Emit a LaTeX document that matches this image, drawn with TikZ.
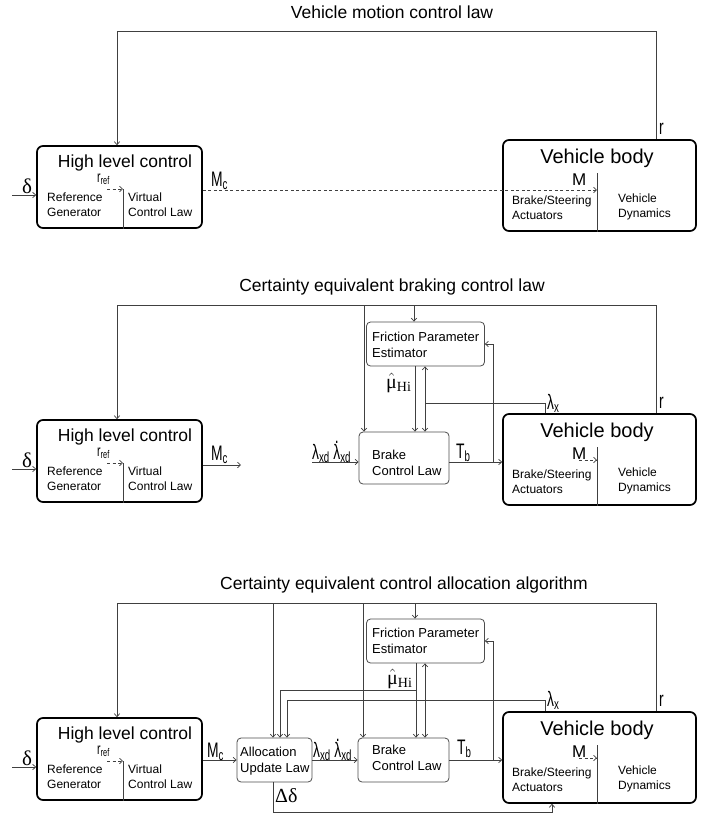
\documentclass[tikz,border=0pt]{standalone}
\usepackage[no-math]{fontspec}
\setmainfont{Liberation Sans}
\newfontfamily\lblfont[FakeStretch=0.66]{Liberation Sans}
\newfontfamily\grkfont{Liberation Serif}
\usetikzlibrary{arrows.meta}
\definecolor{wire}{gray}{0.25}
\definecolor{boxline}{gray}{0.3}
\newcommand\dotlam{{\ooalign{λ\cr\hidewidth\raisebox{0.72em}{.}\hidewidth\cr}}}
\tikzset{
  bigbox/.style={draw=black,line width=1.7pt,rounded corners=6pt,inner sep=0pt},
  smallbox/.style={draw=boxline,line width=0.8pt,rounded corners=4pt,inner sep=0pt},
  wireln/.style={wire,line width=0.7pt},
  sig/.style={wireln,-{Straight Barb[length=3pt,width=5.5pt]}},
  dsig/.style={sig,dash pattern=on 3pt off 2.5pt},
  bsig/.style={wireln,{Straight Barb[length=3pt,width=5.5pt]}-{Straight Barb[length=3pt,width=5.5pt]}},
  ttl/.style={font=\fontsize{17.5}{21}\selectfont,inner sep=0pt},
  bigtxt/.style={font=\fontsize{17.5}{21}\selectfont,inner sep=0pt,anchor=base},
  smalltxt/.style={font=\fontsize{12}{15}\selectfont,align=left,inner sep=0pt,anchor=north west},
  midtxt/.style={font=\fontsize{13}{15.5}\selectfont,align=left,inner sep=0pt,anchor=north west},
  lbl/.style={font=\lblfont\fontsize{21}{24}\selectfont,inner sep=0pt,anchor=base west},
  grk/.style={font=\grkfont\fontsize{20}{24}\selectfont,inner sep=0pt,anchor=base west},
}

\begin{document}
\begin{tikzpicture}[x=1pt,y=-1pt]
\useasboundingbox (0,0) rectangle (715,814);
% the three panels share both big blocks and the r loop
\foreach \p/\dy/\tx/\ttext in {1/0/392/Vehicle motion control law,
    2/274/392/Certainty equivalent braking control law,
    3/572/404/Certainty equivalent control allocation algorithm}{
  \node[ttl] (title\p) at (\tx,{12.5+\dy}) {\ttext};
  % high level control
  \node[bigbox,minimum width=165pt,minimum height=82pt] (hlc\p) at (119.5,{187+\dy}) {};
  \node[bigtxt] (hlct\p) at (125,{167+\dy}) {High level control};
  \node[lbl,font=\lblfont\fontsize{16}{18}\selectfont,text height=7pt,text depth=3pt] (rref\p) at (97,{182+\dy}) {r\textsubscript{ref}};
  \coordinate (rrs\p) at (107,{189+\dy});
  \coordinate (hdiv\p) at (123,{189+\dy});
  \draw[dsig] (rrs\p) -- (hdiv\p);
  \draw[wireln] (hdiv\p) -- (hdiv\p |- hlc\p.south);
  \node[smalltxt] (refgen\p) at (47,{193+\dy}) {Reference\\Generator};
  \node[smalltxt] (vcl\p) at (128,{193+\dy}) {Virtual\\Control Law};
  \coordinate (din\p) at (12,{195+\dy});
  \draw[sig] (din\p) -- (din\p -| hlc\p.west);
  \node[grk,font=\grkfont\fontsize{21}{24}\selectfont] (delta\p) at (22,{193+\dy}) {δ};
  % vehicle body
  \node[bigbox,minimum width=193pt,minimum height=91pt] (vb\p) at (599.5,{185.5+\dy}) {};
  \node[bigtxt,font=\fontsize{20}{24}\selectfont] (vbt\p) at (597,{163+\dy}) {Vehicle body};
  \node[lbl,font=\fontsize{17}{20}\selectfont] (m\p) at (572,{185+\dy}) {M};
  \coordinate (vdiv\p) at (597,{173+\dy});
  \draw[wireln] (vdiv\p) -- (vdiv\p |- vb\p.south);
  \node[smalltxt] (act\p) at (512,{196+\dy}) {Brake/Steering\\Actuators};
  \node[smalltxt] (dyn\p) at (618,{194+\dy}) {Vehicle\\Dynamics};
  % r feedback
  \coordinate (rout\p) at (656,{31+\dy});
  \coordinate (rin\p) at (117,{31+\dy});
  \draw[sig] (rout\p |- vb\p.north) -- (rout\p) -- (rin\p) -- (rin\p |- hlc\p.north);
  \node[lbl] (r\p) at (659,{134+\dy}) {r};
}

% panel 1
\coordinate (mc1) at (597,190);
\draw[dsig] (mc1 -| hlc1.east) -- (mc1);
\node[lbl] (mct1) at (211,186) {M\textsubscript{c}};

% panel 2
\node[smallbox,minimum width=118pt,minimum height=44pt] (fpe2) at (425.5,344) {};
\node[midtxt] (fpet2) at (372,332) {Friction Parameter\\Estimator};
\node[smallbox,minimum width=90pt,minimum height=52pt] (brake2) at (404,458) {};
\node[midtxt] (braket2) at (372,450) {Brake\\Control Law};
\coordinate (mc2) at (241,465);
\draw[sig] (mc2 -| hlc2.east) -- (mc2);
\node[lbl] (mct2) at (211,460) {M\textsubscript{c}};
\coordinate (lin2) at (312,462);
\draw[sig] (lin2) -- (lin2 -| brake2.west);
\node[lbl] (lxd2) at (312,459) {λ\textsubscript{xd}\,\dotlam\textsubscript{xd}};
\coordinate (tb2) at (0,462);
\draw[sig] (brake2.east |- tb2) -- (vb2.west |- tb2);
\node[lbl] (tbt2) at (456,458) {T\textsubscript{b}};
\coordinate (fb2) at (493,462);
\draw[sig] (fb2) |- (fpe2.east);
\coordinate (br2) at (364,305);
\draw[sig] (br2) -- (br2 |- brake2.north);
\coordinate (fr2) at (414,305);
\draw[sig] (fr2) -- (fr2 |- fpe2.north);
\coordinate (mu2) at (415,390);
\draw[sig] (mu2 |- fpe2.south) -- (mu2 |- brake2.north);
\node[grk] (mut2) at (386,388) {$\hat{\mbox{μ}}$\textsubscript{Hi}};
\coordinate (lx2) at (425,403);
\draw[bsig] (lx2 |- fpe2.south) -- (lx2 |- brake2.north);
\coordinate (lxo2) at (545,403);
\draw[wireln] (lxo2 |- vb2.north) -- (lxo2) -- (lx2);
\node[lbl] (lxt2) at (547,409) {λ\textsubscript{x}};
\coordinate (mv2) at (597,460);
\draw[dsig] ([xshift=-18pt]mv2) -- (mv2);

% panel 3
\node[smallbox,minimum width=118pt,minimum height=44pt] (fpe3) at (425.5,641) {};
\node[midtxt] (fpet3) at (372,628) {Friction Parameter\\Estimator};
\node[smallbox,minimum width=75pt,minimum height=44pt] (alloc3) at (274.5,760) {};
\node[midtxt] (alloct3) at (240,747) {Allocation\\Update Law};
\node[smallbox,minimum width=91pt,minimum height=44pt] (brake3) at (403.5,760) {};
\node[midtxt] (braket3) at (372,745) {Brake\\Control Law};
\draw[sig] (hlc3.east |- alloc3.west) -- (alloc3.west);
\node[lbl] (mct3) at (207,757) {M\textsubscript{c}};
\draw[sig] (alloc3.east) -- (brake3.west);
\node[lbl] (lxd3) at (313,757) {λ\textsubscript{xd}\,\dotlam\textsubscript{xd}};
\draw[sig] (brake3.east) -- (vb3.west |- brake3.east);
\node[lbl] (tbt3) at (457,754) {T\textsubscript{b}};
\coordinate (fb3) at (493,760);
\draw[sig] (fb3) |- (fpe3.east);
\coordinate (ar3) at (273,603);
\draw[sig] (ar3) -- (ar3 |- alloc3.north);
\coordinate (br3) at (363,603);
\draw[sig] (br3) -- (br3 |- brake3.north);
\coordinate (fr3) at (415,603);
\draw[sig] (fr3) -- (fr3 |- fpe3.north);
\coordinate (mu3) at (416,690);
\coordinate (ma3) at (280,690);
\draw[sig] (mu3 |- fpe3.south) -- (mu3 |- brake3.north);
\draw[sig] (mu3) -- (ma3) -- (ma3 |- alloc3.north);
\node[grk] (mut3) at (387,684) {$\hat{\mbox{μ}}$\textsubscript{Hi}};
\coordinate (lxo3) at (545,700);
\coordinate (la3) at (287,700);
\draw[sig] (lxo3 |- vb3.north) -- (lxo3) -- (la3) -- (la3 |- alloc3.north);
\coordinate (lx3) at (425,700);
\draw[bsig] (lx3 |- fpe3.south) -- (lx3 |- brake3.north);
\node[lbl] (lxt3) at (547,706) {λ\textsubscript{x}};
\coordinate (dd3) at (273,812);
\coordinate (ddv3) at (552,812);
\draw[sig] (dd3 |- alloc3.south) -- (dd3) -- (ddv3) -- (ddv3 |- vb3.south);
\node[grk] (ddt3) at (275,802) {Δδ};
\coordinate (mv3) at (597,758);
\draw[dsig] ([xshift=-18pt]mv3) -- (mv3);
\end{tikzpicture}
\end{document}
